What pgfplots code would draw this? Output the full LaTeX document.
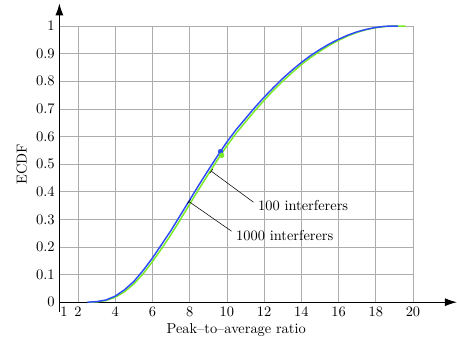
\documentclass[border=0pt]{standalone}
\usepackage{pgfplots}
\pgfplotsset{compat=1.18}
\usetikzlibrary{arrows.meta}
\definecolor{cblue}{RGB}{45,75,250}
\definecolor{cgreen}{RGB}{120,235,40}
\begin{document}
\begin{tikzpicture}[font=\fontsize{10.8}{13}\selectfont]
\begin{axis}[
  scale only axis,
  width=265pt, height=207pt,
  xmin=1, xmax=20, ymin=0, ymax=1,
  axis x line=bottom, axis y line=left,
  x axis line style={-{Latex[length=9pt,width=6pt]}, shorten >=-33pt, line width=0.8pt},
  y axis line style={-{Latex[length=9pt,width=6pt]}, shorten >=-17pt, shorten <=-7pt, line width=0.8pt},
  xtick={1,2,4,6,8,10,12,14,16,18,20},
  xticklabels={\hspace{7pt}1,2,4,6,8,10,12,14,16,18,20},
  ytick={0,0.1,0.2,0.3,0.4,0.5,0.6,0.7,0.8,0.9,1},
  yticklabel style={/pgf/number format/fixed},
  ticklabel style={font=\fontsize{10.8}{13}\selectfont},
  label style={font=\fontsize{10.8}{13}\selectfont},
  major tick length=0pt,
  grid=major,
  major grid style={gray!65, line width=0.5pt},
  xlabel={Peak--to--average ratio},
  xlabel style={yshift=2pt},
  ylabel={ECDF},
  clip=false,
]
% 1000 interferers (green)
\addplot[cgreen, line width=1.1pt] coordinates {
(2.6,0) (3,0.001) (3.5,0.006) (4,0.018) (4.5,0.038) (5,0.066) (5.5,0.103)
(6,0.147) (6.5,0.195) (7,0.245) (7.5,0.299) (8,0.355) (8.5,0.41) (9,0.463)
(9.5,0.516) (10,0.566) (10.5,0.612) (11,0.653) (11.5,0.693) (12,0.731)
(12.5,0.767) (13,0.8) (13.5,0.831) (14,0.86) (14.5,0.886) (15,0.909)
(15.5,0.93) (16,0.948) (16.5,0.964) (17,0.977) (17.5,0.987) (18,0.994)
(18.5,0.998) (19,1) (19.6,1)};
% 100 interferers (blue)
\addplot[cblue, line width=1.1pt] coordinates {
(2.5,0) (3,0.002) (3.5,0.008) (4,0.022) (4.5,0.045) (5,0.075) (5.5,0.115)
(6,0.16) (6.5,0.21) (7,0.26) (7.5,0.315) (8,0.37) (8.5,0.425) (9,0.478)
(9.5,0.53) (10,0.58) (10.5,0.625) (11,0.665) (11.5,0.705) (12,0.742)
(12.5,0.777) (13,0.81) (13.5,0.84) (14,0.868) (14.5,0.893) (15,0.915)
(15.5,0.935) (16,0.952) (16.5,0.967) (17,0.979) (17.5,0.988) (18,0.995)
(18.5,0.999) (19,1) (19.2,1)};
% markers
\addplot[only marks, mark=*, mark size=1.8pt, cblue] coordinates {(9.66,0.545)};
\addplot[only marks, mark=*, mark size=1.8pt, cgreen] coordinates {(9.72,0.532)};
% annotations
\draw[{Bar[width=4pt]}-, thin] (axis cs:9.15,0.475) -- (axis cs:11.43,0.362);
\node[anchor=west] at (axis cs:11.43,0.351) {100 interferers};
\draw[{Bar[width=4pt]}-, thin] (axis cs:7.95,0.365) -- (axis cs:10.25,0.257);
\node[anchor=west] at (axis cs:10.25,0.243) {1000 interferers};
% page extent
\path (rel axis cs:-0.168,-0.1377) rectangle (rel axis cs:1.1244,1.0942);
\end{axis}
\end{tikzpicture}
\end{document}
